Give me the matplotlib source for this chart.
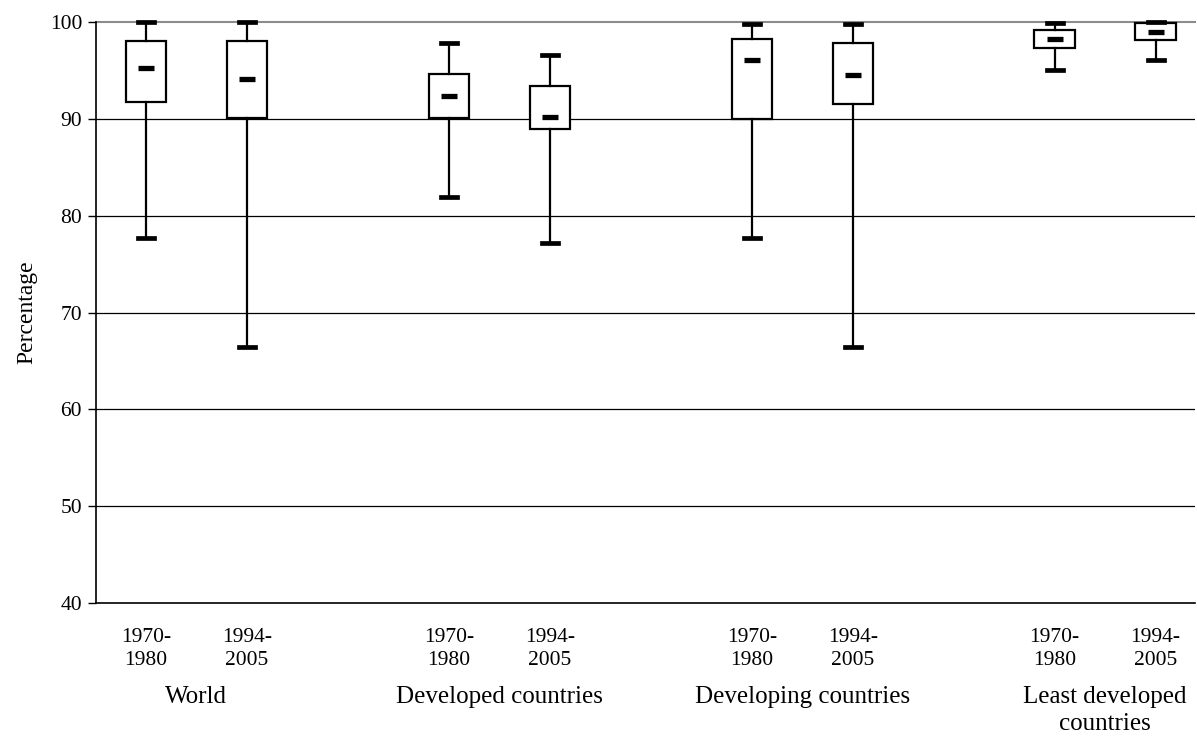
import matplotlib
matplotlib.use("Agg")
import matplotlib.pyplot as plt

plt.rcParams['font.family'] = ['Liberation Serif', 'DejaVu Serif']

groups = ["World", "Developed countries", "Developing countries", "Least developed\ncountries"]
periods = ["1970-\n1980", "1994-\n2005"]

# whisker low, first quartile, median, third quartile, whisker high
lows = [77.7, 66.4, 81.9, 77.2, 77.7, 66.4, 95.0, 96.1]
q1s = [91.7, 90.1, 90.1, 89.0, 90.0, 91.5, 97.3, 98.1]
medians = [95.2, 94.1, 92.4, 90.2, 96.1, 94.5, 98.2, 99.0]
q3s = [98.0, 98.0, 94.6, 93.4, 98.2, 97.8, 99.2, 99.9]
highs = [100.0, 100.0, 97.8, 96.6, 99.8, 99.8, 99.9, 100.0]

positions = [0, 1, 3, 4, 6, 7, 9, 10]

stats = []
for lo, a, m, b, hi in zip(lows, q1s, medians, q3s, highs):
    stats.append({"whislo": lo, "q1": a, "med": m, "q3": b, "whishi": hi, "fliers": []})

fig = plt.figure(figsize=(11.97, 7.40), dpi=100)
ax = fig.add_axes([0.0802, 0.1851, 0.9181, 0.7852])

ax.set_ylim(40, 100)
ax.set_xlim(-0.495, 10.39)

# horizontal gridlines
for v in [50, 60, 70, 80, 90]:
    ax.axhline(v, color="black", lw=0.9, zorder=1)
ax.axhline(100, color="#8c8c8c", lw=1.5, zorder=1, clip_on=False)

parts = ax.bxp(stats, positions=positions, widths=0.4, capwidths=0.16,
               patch_artist=True, showfliers=False,
               boxprops=dict(facecolor="white", edgecolor="black", linewidth=1.6),
               whiskerprops=dict(color="black", linewidth=1.6),
               capprops=dict(color="black", linewidth=3.4),
               medianprops=dict(visible=False), zorder=3)
for art in parts["caps"] + parts["whiskers"] + parts["boxes"]:
    art.set_clip_on(False)

# short thick median marks
for p, m in zip(positions, medians):
    ax.plot([p - 0.08, p + 0.08], [m, m], color="black", lw=3.8,
            solid_capstyle="butt", zorder=4)

ax.set_yticks([40, 50, 60, 70, 80, 90, 100])
ax.tick_params(axis="y", direction="out", length=6, width=1, labelsize=15.5, pad=4)
ax.set_xticks(positions)
ax.set_xticklabels(periods * 4, fontsize=15.5, linespacing=1.3)
ax.tick_params(axis="x", length=0, pad=18)

for s in ["top", "right"]:
    ax.spines[s].set_visible(False)
ax.spines["left"].set_linewidth(1.2)
ax.spines["bottom"].set_linewidth(1.2)

# group names under the period labels
for i, g in enumerate(groups):
    x = (positions[2 * i] + positions[2 * i + 1]) / 2
    ax.text(x, -0.143, g, transform=ax.get_xaxis_transform(), ha="center", va="top",
            fontsize=18, linespacing=1.3)

ax.set_ylabel("Percentage", fontsize=17)
ax.yaxis.set_label_coords(-0.053, 0.5)

fig.savefig("out.png", dpi=100)
